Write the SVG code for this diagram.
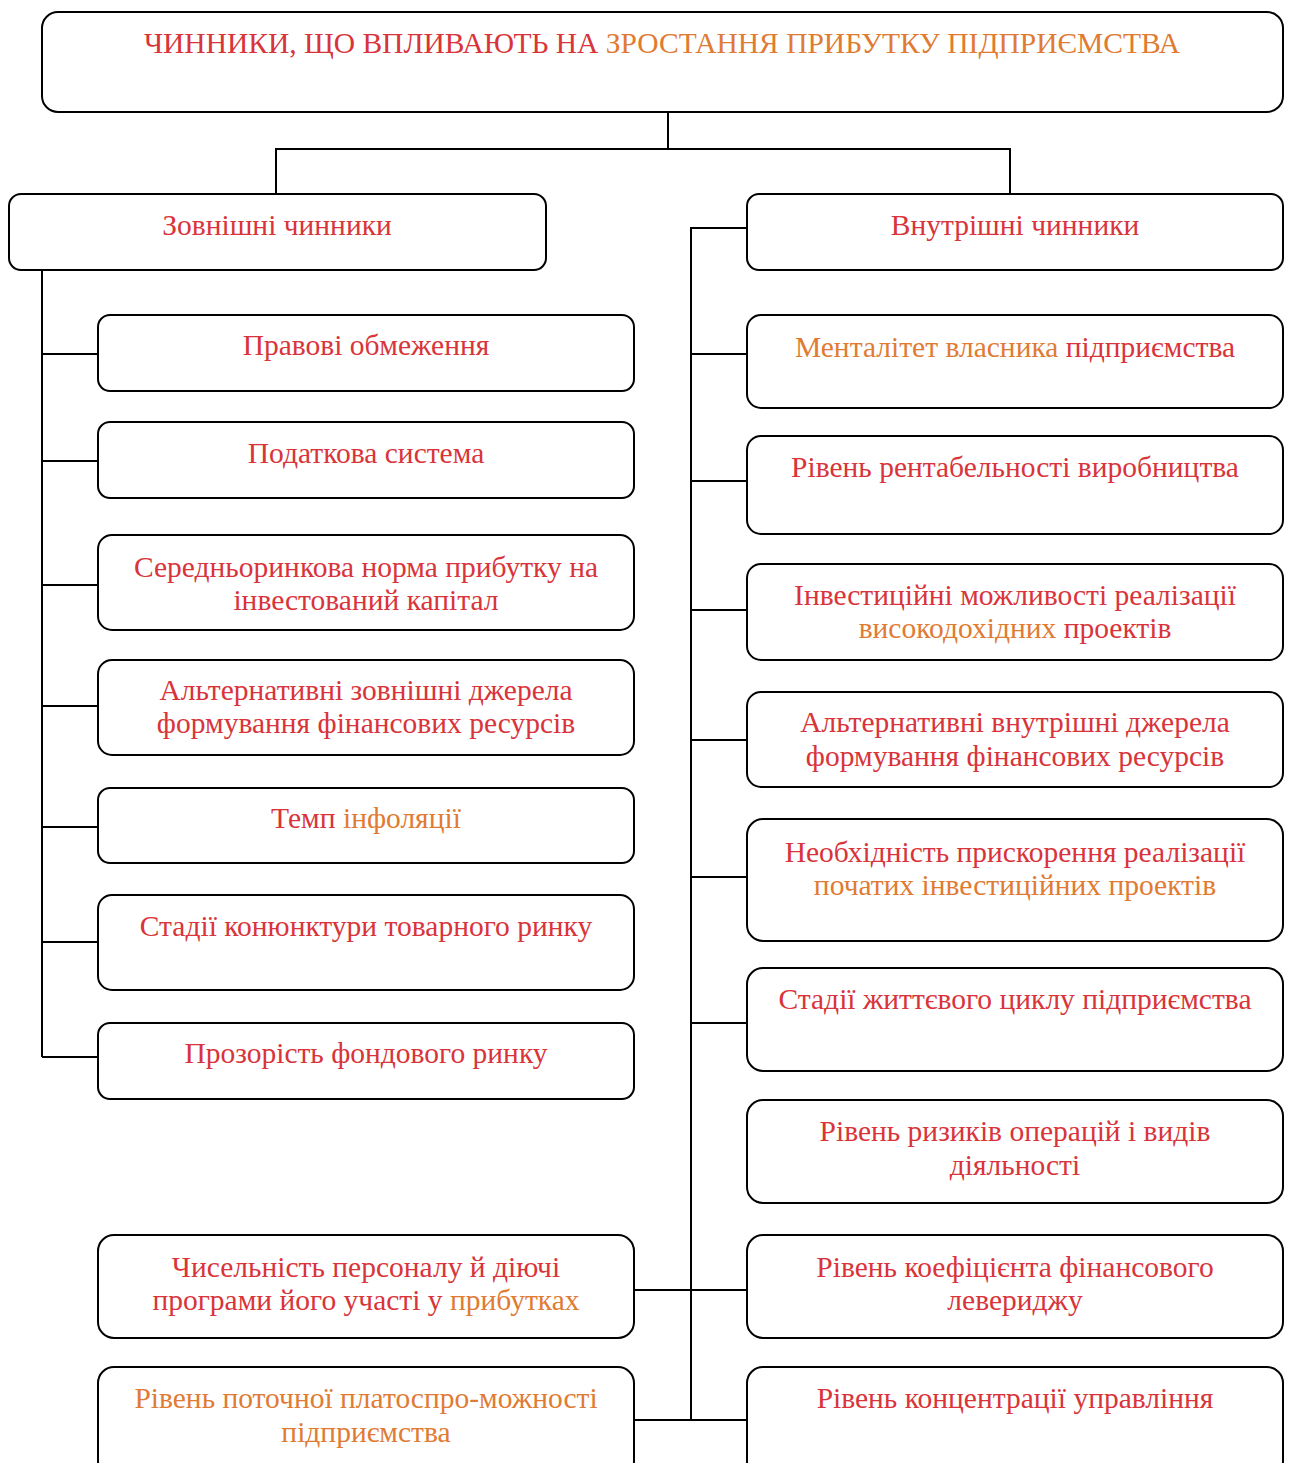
<svg xmlns="http://www.w3.org/2000/svg" width="1290" height="1463" viewBox="0 0 1290 1463">
<style>
.box{fill:#fff;stroke:#000;stroke-width:2}
.c{fill:none;stroke:#000;stroke-width:2}
.t{font-family:"Liberation Serif","Times New Roman",serif;font-size:29.5px;text-anchor:middle;fill:#d8343a}
.o{fill:#e07b33}
</style>
<rect width="1290" height="1463" fill="#fff"/>
<g id="connectors">
<path class="c" d="M668 112V149M276 194V149H1010V194"/>
<path class="c" d="M42 270V1057M42 354H98M42 461H98M42 585H98M42 706H98M42 827H98M42 942H98M42 1057H98"/>
<path class="c" d="M747 228H691V1420M691 354H747M691 481H747M691 610H747M691 740H747M691 877H747M691 1023H747M634 1290H747M634 1420H747"/>
</g>
<g id="title"><rect class="box" x="42" y="12" width="1241" height="100" rx="16"/>
<text class="t" x="662" y="53">ЧИННИКИ, ЩО ВПЛИВАЮТЬ НА <tspan class="o">ЗРОСТАННЯ ПРИБУТКУ ПІДПРИЄМСТВА</tspan></text></g>
<g id="ext"><rect class="box" x="9" y="194" width="537" height="76" rx="12"/>
<text class="t" x="277" y="235">Зовнішні чинники</text></g>
<g id="int"><rect class="box" x="747" y="194" width="536" height="76" rx="12"/>
<text class="t" x="1015" y="235">Внутрішні чинники</text></g>
<g id="l1"><rect class="box" x="98" y="315" width="536" height="76" rx="12"/>
<text class="t" x="366" y="355">Правові обмеження</text></g>
<g id="l2"><rect class="box" x="98" y="422" width="536" height="76" rx="12"/>
<text class="t" x="366" y="463">Податкова система</text></g>
<g id="l3"><rect class="box" x="98" y="535" width="536" height="95" rx="14"/>
<text class="t"><tspan x="366" y="577">Середньоринкова норма прибутку на</tspan><tspan x="366" y="610">інвестований капітал</tspan></text></g>
<g id="l4"><rect class="box" x="98" y="660" width="536" height="95" rx="14"/>
<text class="t"><tspan x="366" y="700">Альтернативні зовнішні джерела</tspan><tspan x="366" y="733">формування фінансових ресурсів</tspan></text></g>
<g id="l5"><rect class="box" x="98" y="788" width="536" height="75" rx="12"/>
<text class="t" x="366" y="828">Темп <tspan class="o">інфоляції</tspan></text></g>
<g id="l6"><rect class="box" x="98" y="895" width="536" height="95" rx="14"/>
<text class="t" x="366" y="936">Стадії конюнктури товарного ринку</text></g>
<g id="l7"><rect class="box" x="98" y="1023" width="536" height="76" rx="12"/>
<text class="t" x="366" y="1063">Прозорість фондового ринку</text></g>
<g id="l8"><rect class="box" x="98" y="1235" width="536" height="103" rx="16"/>
<text class="t"><tspan x="366" y="1277">Чисельність персоналу й діючі</tspan><tspan x="366" y="1310">програми його участі у <tspan class="o">прибутках</tspan></tspan></text></g>
<g id="l9"><rect class="box" x="98" y="1367" width="536" height="110" rx="16"/>
<text class="t o"><tspan x="366" y="1408">Рівень поточної платоспро-можності</tspan><tspan x="366" y="1442">підприємства</tspan></text></g>
<g id="r1"><rect class="box" x="747" y="315" width="536" height="93" rx="14"/>
<text class="t" x="1015" y="357"><tspan class="o">Менталітет власника</tspan> підприємства</text></g>
<g id="r2"><rect class="box" x="747" y="436" width="536" height="98" rx="14"/>
<text class="t" x="1015" y="477">Рівень рентабельності виробництва</text></g>
<g id="r3"><rect class="box" x="747" y="564" width="536" height="96" rx="14"/>
<text class="t"><tspan x="1015" y="605">Інвестиційні можливості реалізації</tspan><tspan x="1015" y="638"><tspan class="o">високодохідних</tspan> проектів</tspan></text></g>
<g id="r4"><rect class="box" x="747" y="692" width="536" height="95" rx="14"/>
<text class="t"><tspan x="1015" y="732">Альтернативні внутрішні джерела</tspan><tspan x="1015" y="766">формування фінансових ресурсів</tspan></text></g>
<g id="r5"><rect class="box" x="747" y="819" width="536" height="122" rx="16"/>
<text class="t"><tspan x="1015" y="862">Необхідність прискорення реалізації</tspan><tspan x="1015" y="895" class="o">початих інвестиційних проектів</tspan></text></g>
<g id="r6"><rect class="box" x="747" y="968" width="536" height="103" rx="16"/>
<text class="t" x="1015" y="1009">Стадії життєвого циклу підприємства</text></g>
<g id="r7"><rect class="box" x="747" y="1100" width="536" height="103" rx="16"/>
<text class="t"><tspan x="1015" y="1141">Рівень ризиків операцій і видів</tspan><tspan x="1015" y="1175">діяльності</tspan></text></g>
<g id="r8"><rect class="box" x="747" y="1235" width="536" height="103" rx="16"/>
<text class="t"><tspan x="1015" y="1277">Рівень коефіцієнта фінансового</tspan><tspan x="1015" y="1310">левериджу</tspan></text></g>
<g id="r9"><rect class="box" x="747" y="1367" width="536" height="110" rx="16"/>
<text class="t" x="1015" y="1408">Рівень концентрації управління</text></g>
</svg>
